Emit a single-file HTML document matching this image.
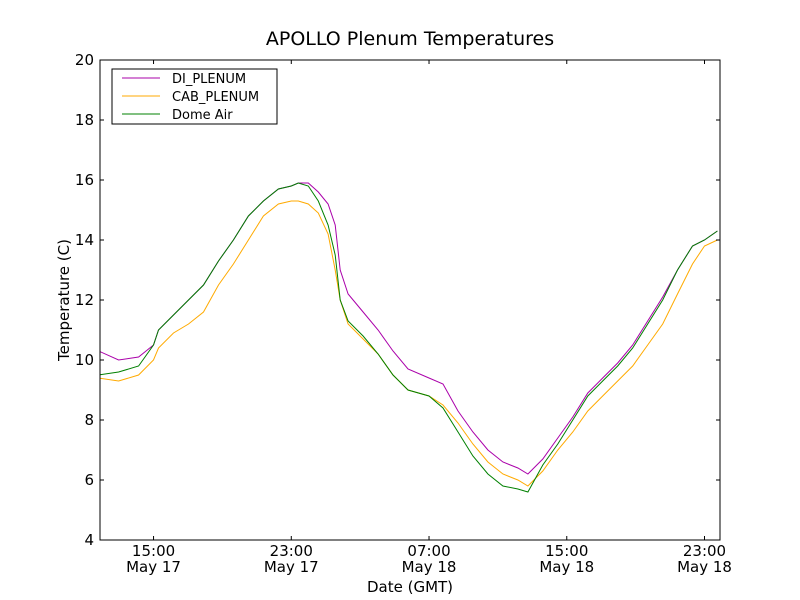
<!DOCTYPE html>
<html><head><meta charset="utf-8"><style>
html,body{margin:0;padding:0;background:#fff;}
svg{display:block;font-family:"DejaVu Sans","Liberation Sans",sans-serif;}
</style></head><body>
<svg id="chart" width="800" height="600">
<rect x="0" y="0" width="800" height="600" fill="#fff"/>
<text x="410" y="45" font-size="19" text-anchor="middle">APOLLO Plenum Temperatures</text>
<g id="plot"></g>
<text x="410" y="592" font-size="15" text-anchor="middle">Date (GMT)</text>
<text transform="translate(69,300) rotate(-90)" font-size="15" text-anchor="middle">Temperature (C)</text>
</svg>
<script>
const hours=[11.81,12.97,14.13,15,15.29,16.16,17.03,17.90,18.77,19.64,20.51,21.38,22.25,23,23.41,23.99,24.57,25.14,25.55,25.84,26.30,27.17,28.04,28.91,29.78,31,31.81,32.68,33.55,34.42,35.29,36.16,36.74,37.61,38.48,39.35,40.22,41.09,41.96,42.83,43.70,44.57,45.43,46.30,47,47.75];
const diPlenum=[10.3,10.0,10.1,10.5,11.0,11.5,12.0,12.5,13.3,14.0,14.8,15.3,15.7,15.8,15.9,15.9,15.6,15.2,14.5,13.0,12.2,11.6,11.0,10.3,9.7,9.4,9.2,8.3,7.6,7.0,6.6,6.4,6.2,6.7,7.4,8.1,8.9,9.4,9.9,10.5,11.3,12.1,13.0,13.8,14.0,14.3];
const cabPlenum=[9.4,9.3,9.5,10.0,10.4,10.9,11.2,11.6,12.5,13.2,14.0,14.8,15.2,15.3,15.3,15.2,14.9,14.2,13.0,12.0,11.2,10.7,10.2,9.5,9.0,8.8,8.5,7.9,7.2,6.6,6.2,6.0,5.8,6.3,7.0,7.6,8.3,8.8,9.3,9.8,10.5,11.2,12.2,13.2,13.8,14.0];
const domeAir=[9.5,9.6,9.8,10.5,11.0,11.5,12.0,12.5,13.3,14.0,14.8,15.3,15.7,15.8,15.9,15.8,15.3,14.5,13.5,12.0,11.3,10.8,10.2,9.5,9.0,8.8,8.4,7.6,6.8,6.2,5.8,5.7,5.6,6.5,7.2,8.0,8.8,9.3,9.8,10.4,11.2,12.0,13.0,13.8,14.0,14.3];
const yTicks=[4,6,8,10,12,14,16,18,20];
const xTickHours=[15,23,31,39,47];
const xTickTimes=["15:00","23:00","07:00","15:00","23:00"];
const xTickDates=["May 17","May 17","May 18","May 18","May 18"];
const seriesNames=["DI_PLENUM","CAB_PLENUM","Dome Air"];
const seriesColors=["#aa00aa","#ffaa00","#008000"];

const L=100,R=720,T=60,B=540,hMin=11.89,hMax=47.9,yMin=4,yMax=20;
const sx=h=>L+(h-hMin)/(hMax-hMin)*(R-L);
const sy=v=>B-(v-yMin)/(yMax-yMin)*(B-T);
const NS="http://www.w3.org/2000/svg";
const g=document.getElementById('plot');
function mk(tag,attrs){const e=document.createElementNS(NS,tag);for(const k in attrs)e.setAttribute(k,attrs[k]);g.appendChild(e);return e;}

const clip=mk('clipPath',{id:'clipr'});
const cr=document.createElementNS(NS,'rect');cr.setAttribute('x',L);cr.setAttribute('y',T);cr.setAttribute('width',R-L);cr.setAttribute('height',B-T);clip.appendChild(cr);

[diPlenum,cabPlenum,domeAir].forEach((s,i)=>{
  const p=mk('polyline',{points:s.map((v,j)=>sx(hours[j]).toFixed(1)+','+sy(v).toFixed(1)).join(' '),fill:'none',stroke:seriesColors[i],'stroke-width':1,'clip-path':'url(#clipr)'});
  
  
});
const frame=mk('rect',{x:L,y:T,width:R-L,height:B-T,fill:'none',stroke:'#000','stroke-width':1});


yTicks.forEach(v=>{
  const y=sy(v);
  mk('line',{x1:L,x2:L+4,y1:y,y2:y,stroke:'#000'});
  mk('line',{x1:R,x2:R-4,y1:y,y2:y,stroke:'#000'});
  const t=mk('text',{x:L-6,y:y+5,'font-size':15,'text-anchor':'end'});t.textContent=v;
  
  
});
xTickHours.forEach((h,i)=>{
  const x=sx(h);
  mk('line',{x1:x,x2:x,y1:B,y2:B-4,stroke:'#000'});
  mk('line',{x1:x,x2:x,y1:T,y2:T+4,stroke:'#000'});
  const t=mk('text',{x:x,y:556,'font-size':15,'text-anchor':'middle'});t.textContent=xTickTimes[i];
  
  
  const d=mk('text',{x:x,y:572,'font-size':15,'text-anchor':'middle'});d.textContent=xTickDates[i];
  
  
});
const lg=mk('rect',{x:112,y:69,width:165,height:55,fill:'#fff',stroke:'#000'});


seriesNames.forEach((n,i)=>{
  const y=78+i*18;
  mk('line',{x1:122,x2:160,y1:y,y2:y,stroke:seriesColors[i]});
  const t=mk('text',{x:172,y:y+5,'font-size':13});t.textContent=n;
  
  
});
</script>
</body></html>
